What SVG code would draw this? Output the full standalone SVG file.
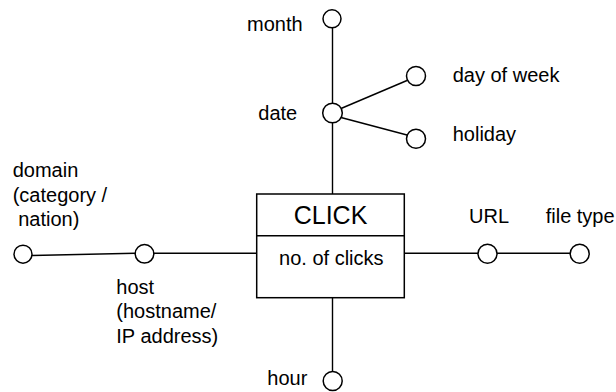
<svg xmlns="http://www.w3.org/2000/svg" width="616" height="392" viewBox="0 0 616 392">
<style>
text{font-family:"Liberation Sans",Arial,sans-serif;font-size:20px;fill:#000}
.ln{stroke:#000;stroke-width:1.4;fill:none}
.at{fill:#fff;stroke:#000;stroke-width:1.5}
.box{fill:#fff;stroke:#000;stroke-width:1.5}
</style>
<rect width="616" height="392" fill="#fff"/>
<g id="connectors">
<line class="ln" x1="332.5" y1="28" x2="332.5" y2="103"/>
<line class="ln" x1="332.5" y1="123" x2="332.5" y2="194"/>
<line class="ln" x1="341" y1="108.5" x2="407" y2="80.5"/>
<line class="ln" x1="341" y1="117.5" x2="407" y2="135"/>
<line class="ln" x1="32" y1="255.5" x2="135" y2="253.3"/>
<line class="ln" x1="154" y1="253.3" x2="256.5" y2="253.3"/>
<line class="ln" x1="404.5" y1="253.3" x2="478" y2="253.3"/>
<line class="ln" x1="497" y1="253.3" x2="570.5" y2="253.3"/>
<line class="ln" x1="332.5" y1="298" x2="332.5" y2="372"/>
</g>
<g id="click">
<rect class="box" x="256.7" y="194" width="147.6" height="103.7"/>
<line class="ln" x1="256.7" y1="235.7" x2="404.3" y2="235.7"/>
<text x="330.5" y="224.3" text-anchor="middle" style="font-size:25px">CLICK</text>
<text x="331.3" y="265" text-anchor="middle">no. of clicks</text>
</g>
<g id="month"><circle class="at" cx="332" cy="18.8" r="9"/><text x="247" y="30.5">month</text></g>
<g id="date"><circle class="at" cx="332.5" cy="113" r="9.8"/><text x="258.3" y="120">date</text></g>
<g id="day-of-week"><circle class="at" cx="416" cy="76" r="9.5"/><text x="452.7" y="81.5">day of week</text></g>
<g id="holiday"><circle class="at" cx="416" cy="138.7" r="9.5"/><text x="452.7" y="141.3">holiday</text></g>
<g id="domain"><circle class="at" cx="23" cy="254.2" r="9"/>
<text x="12.7" y="176.7">domain</text><text x="12.7" y="201.5">(category /</text><text x="12.7" y="226">&#160;nation)</text></g>
<g id="host"><circle class="at" cx="144.5" cy="253.8" r="9.3"/>
<text x="116.3" y="293.5">host</text><text x="116.3" y="318">(hostname/</text><text x="116.3" y="342.5">IP address)</text></g>
<g id="url"><circle class="at" cx="487.5" cy="253.8" r="9.5"/><text x="469" y="223.3">URL</text></g>
<g id="file-type"><circle class="at" cx="579.7" cy="253.8" r="9.5"/><text x="545.7" y="223.3">file type</text></g>
<g id="hour"><circle class="at" cx="332.7" cy="381" r="9.5"/><text x="267.3" y="385">hour</text></g>
</svg>
